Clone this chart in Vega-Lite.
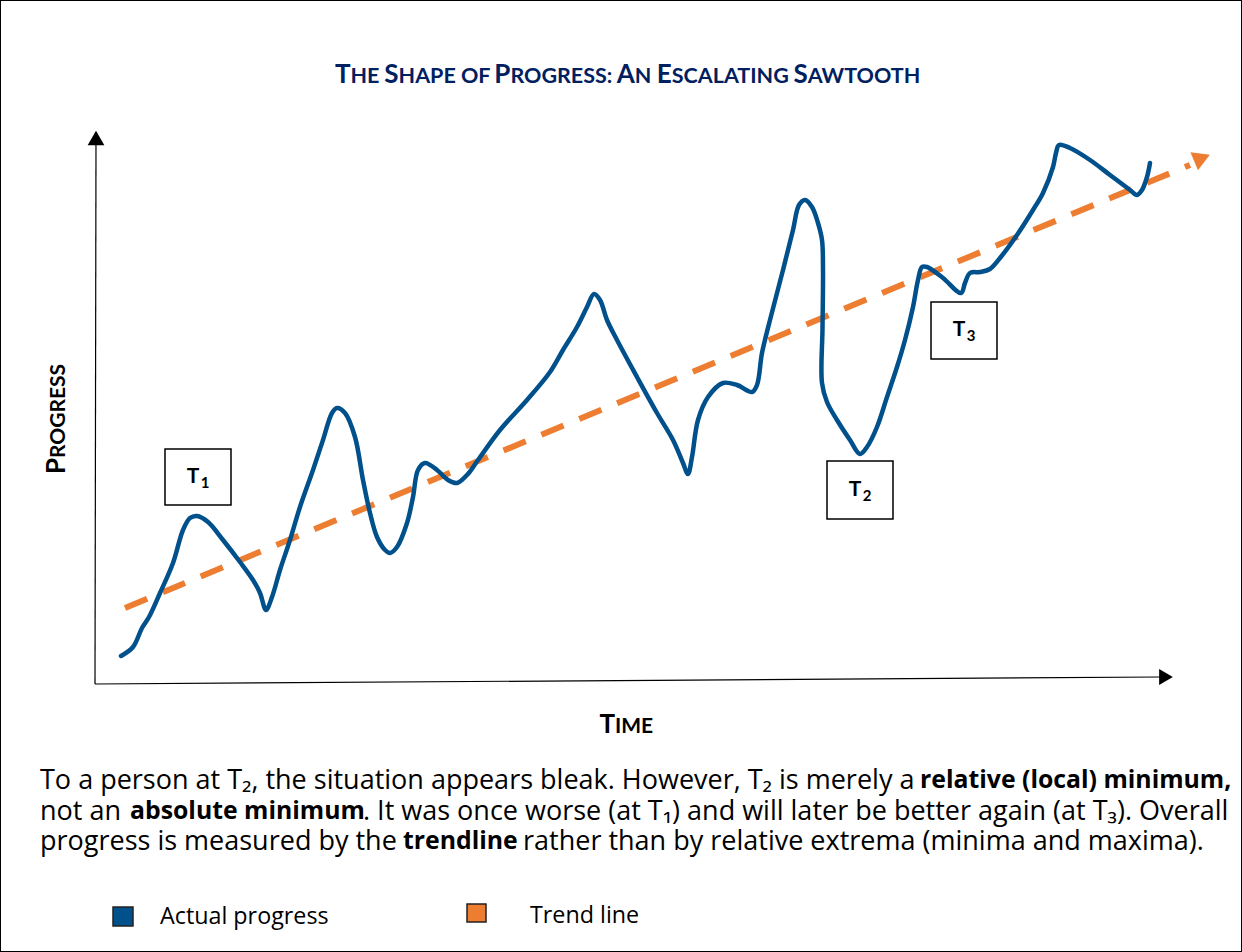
{
  "$schema": "https://vega.github.io/schema/vega-lite/v6.json",
  "width": 1242,
  "height": 952,
  "padding": 0,
  "autosize": {"type": "none"},
  "background": "white",
  "config": {"view": {"stroke": "#000000", "strokeWidth": 2}},
  "datasets": {
    "axes": [
      {"t": 0, "p": -0.1, "t2": 106.5, "p2": 0.6},
      {"t": 0, "p": -0.1, "t2": 0.1, "p2": 54.3}
    ],
    "arrows": [
      {"name": "y", "t": 0.1, "p": 54.5},
      {"name": "x", "t": 107.1, "p": 0.6},
      {"name": "trend", "t": 110.7, "p": 52.5}
    ],
    "trend": [
      {"t": 3.0, "p": 7.5},
      {"t": 109.5, "p": 51.8}
    ],
    "curve": [
      {"i": 1, "t": 2.6, "p": 2.7}, {"i": 2, "t": 3.8, "p": 3.6}, {"i": 3, "t": 4.7, "p": 5.5}, {"i": 4, "t": 5.4, "p": 6.6},
      {"i": 5, "t": 6.5, "p": 9.0}, {"i": 6, "t": 7.8, "p": 12.0}, {"i": 7, "t": 8.8, "p": 15.3}, {"i": 8, "t": 9.5, "p": 16.5},
      {"i": 9, "t": 10.2, "p": 16.7}, {"i": 10, "t": 11.3, "p": 16.1}, {"i": 11, "t": 12.8, "p": 14.3}, {"i": 12, "t": 14.5, "p": 12.1},
      {"i": 13, "t": 15.8, "p": 10.3}, {"i": 14, "t": 16.5, "p": 9.0}, {"i": 15, "t": 17.1, "p": 7.3}, {"i": 16, "t": 17.7, "p": 8.6},
      {"i": 17, "t": 18.5, "p": 11.3}, {"i": 18, "t": 19.5, "p": 14.3}, {"i": 19, "t": 20.5, "p": 17.6}, {"i": 20, "t": 21.8, "p": 21.3},
      {"i": 21, "t": 22.8, "p": 24.3}, {"i": 22, "t": 23.7, "p": 27.0}, {"i": 23, "t": 24.2, "p": 27.5}, {"i": 24, "t": 25.0, "p": 27.0},
      {"i": 25, "t": 26.0, "p": 24.6}, {"i": 26, "t": 26.8, "p": 20.3}, {"i": 27, "t": 27.5, "p": 17.0}, {"i": 28, "t": 28.2, "p": 14.6},
      {"i": 29, "t": 29.0, "p": 13.3}, {"i": 30, "t": 29.5, "p": 13.0}, {"i": 31, "t": 30.2, "p": 13.6}, {"i": 32, "t": 31.2, "p": 16.0},
      {"i": 33, "t": 31.8, "p": 18.6}, {"i": 34, "t": 32.3, "p": 21.3}, {"i": 35, "t": 33.0, "p": 22.0}, {"i": 36, "t": 34.2, "p": 21.3},
      {"i": 37, "t": 35.3, "p": 20.3}, {"i": 38, "t": 36.2, "p": 20.0}, {"i": 39, "t": 37.2, "p": 20.8}, {"i": 40, "t": 38.3, "p": 22.3},
      {"i": 41, "t": 40.5, "p": 25.3}, {"i": 42, "t": 43.2, "p": 28.3}, {"i": 43, "t": 45.5, "p": 31.1}, {"i": 44, "t": 46.8, "p": 33.3},
      {"i": 45, "t": 48.2, "p": 35.6}, {"i": 46, "t": 49.2, "p": 37.6}, {"i": 47, "t": 49.9, "p": 38.9}, {"i": 48, "t": 50.5, "p": 38.3},
      {"i": 49, "t": 51.2, "p": 36.3}, {"i": 50, "t": 52.2, "p": 34.3}, {"i": 51, "t": 54.2, "p": 30.6}, {"i": 52, "t": 56.2, "p": 27.0},
      {"i": 53, "t": 57.8, "p": 24.3}, {"i": 54, "t": 58.8, "p": 22.0}, {"i": 55, "t": 59.3, "p": 20.9}, {"i": 56, "t": 59.7, "p": 22.6},
      {"i": 57, "t": 60.3, "p": 26.3}, {"i": 58, "t": 61.3, "p": 28.6}, {"i": 59, "t": 62.8, "p": 30.0}, {"i": 60, "t": 64.2, "p": 29.8},
      {"i": 61, "t": 65.7, "p": 29.1}, {"i": 62, "t": 66.2, "p": 29.8}, {"i": 63, "t": 66.7, "p": 33.0}, {"i": 64, "t": 67.5, "p": 36.3},
      {"i": 65, "t": 68.8, "p": 41.3}, {"i": 66, "t": 69.8, "p": 45.3}, {"i": 67, "t": 70.4, "p": 47.8}, {"i": 68, "t": 71.0, "p": 48.3},
      {"i": 69, "t": 71.7, "p": 47.6}, {"i": 70, "t": 72.3, "p": 46.0}, {"i": 71, "t": 72.7, "p": 44.3}, {"i": 72, "t": 72.8, "p": 41.3},
      {"i": 73, "t": 72.75, "p": 35.5}, {"i": 74, "t": 72.7, "p": 30.0}, {"i": 75, "t": 73.2, "p": 28.1}, {"i": 76, "t": 74.2, "p": 26.3},
      {"i": 77, "t": 75.5, "p": 24.3}, {"i": 78, "t": 76.5, "p": 22.9}, {"i": 79, "t": 77.2, "p": 23.6}, {"i": 80, "t": 78.2, "p": 25.6},
      {"i": 81, "t": 79.2, "p": 28.6}, {"i": 82, "t": 80.2, "p": 31.6}, {"i": 83, "t": 81.0, "p": 34.3}, {"i": 84, "t": 81.8, "p": 37.6},
      {"i": 85, "t": 82.3, "p": 40.3}, {"i": 86, "t": 82.7, "p": 41.6}, {"i": 87, "t": 83.2, "p": 41.6}, {"i": 88, "t": 84.8, "p": 40.5},
      {"i": 89, "t": 86.6, "p": 39.0}, {"i": 90, "t": 87.0, "p": 40.0}, {"i": 91, "t": 87.5, "p": 41.0}, {"i": 92, "t": 88.5, "p": 41.1},
      {"i": 93, "t": 89.5, "p": 41.4}, {"i": 94, "t": 90.5, "p": 42.5}, {"i": 95, "t": 92.2, "p": 44.8}, {"i": 96, "t": 93.8, "p": 47.3},
      {"i": 97, "t": 94.8, "p": 49.0}, {"i": 98, "t": 95.8, "p": 51.6}, {"i": 99, "t": 96.1, "p": 53.0}, {"i": 100, "t": 96.4, "p": 53.8},
      {"i": 101, "t": 97.5, "p": 53.5}, {"i": 102, "t": 99.5, "p": 52.3}, {"i": 103, "t": 101.5, "p": 50.8}, {"i": 104, "t": 103.5, "p": 49.3},
      {"i": 105, "t": 104.2, "p": 48.8}, {"i": 106, "t": 104.7, "p": 49.3}, {"i": 107, "t": 105.2, "p": 50.6}, {"i": 108, "t": 105.5, "p": 52.0}
    ],
    "boxes": [
      {"name": "T1", "t": 7.0, "t2": 13.6, "p": 23.4, "p2": 17.8},
      {"name": "T2", "t": 73.2, "t2": 79.8, "p": 22.2, "p2": 16.4},
      {"name": "T3", "t": 83.6, "t2": 90.2, "p": 38.1, "p2": 32.4}
    ],
    "labels": [
      {"t": 10.3, "p": 20.6, "main": "T", "sub": "1"},
      {"t": 76.5, "p": 19.3, "main": "T", "sub": "2"},
      {"t": 86.9, "p": 35.3, "main": "T", "sub": "3"}
    ],
    "texts": [
      {"kind": "tb", "t": 25.55, "p": 60.0, "text": "T"},
      {"kind": "tb", "t": 30.36, "p": 60.0, "text": "S"},
      {"kind": "tb", "t": 41.54, "p": 60.0, "text": "P"},
      {"kind": "tb", "t": 53.98, "p": 60.0, "text": "A"},
      {"kind": "tb", "t": 57.68, "p": 60.0, "text": "E"},
      {"kind": "tb", "t": 71.27, "p": 60.0, "text": "S"},
      {"kind": "ts", "t": 25.55, "p": 60.0, "text": "HE"},
      {"kind": "ts", "t": 30.36, "p": 60.0, "text": "HAPE OF"},
      {"kind": "ts", "t": 41.54, "p": 60.0, "text": "ROGRESS:"},
      {"kind": "ts", "t": 53.98, "p": 60.0, "text": "N"},
      {"kind": "ts", "t": 57.68, "p": 60.0, "text": "SCALATING"},
      {"kind": "ts", "t": 71.27, "p": 60.0, "text": "AWTOOTH"},
      {"kind": "xb", "t": 52.0, "p": -5.0, "text": "T"},
      {"kind": "xs", "t": 52.0, "p": -5.0, "text": "IME"},
      {"kind": "yb", "t": -3.0, "p": 22.5, "text": "P"},
      {"kind": "ys", "t": -3.0, "p": 22.5, "text": "ROGRESS"},
      {"kind": "cn", "t": -5.5, "p": -9.8, "text": "To a person at T₂, the situation appears bleak. However, T₂ is merely a"},
      {"kind": "cb", "t": 82.5, "p": -9.8, "text": "relative (local) minimum,"},
      {"kind": "cn", "t": -5.5, "p": -12.9, "text": "not an"},
      {"kind": "cb", "t": 3.5, "p": -12.9, "text": "absolute minimum"},
      {"kind": "cn", "t": 26.8, "p": -12.9, "text": ". It was once worse (at T₁) and will later be better again (at T₃). Overall"},
      {"kind": "cn", "t": -5.5, "p": -15.9, "text": "progress is measured by the"},
      {"kind": "cb", "t": 30.8, "p": -15.9, "text": "trendline"},
      {"kind": "cn", "t": 42.8, "p": -15.9, "text": "rather than by relative extrema (minima and maxima)."},
      {"kind": "ln", "t": 6.5, "p": -23.4, "text": "Actual progress"},
      {"kind": "ln", "t": 43.5, "p": -23.3, "text": "Trend line"}
    ],
    "legend": [
      {"series": "Actual progress", "t": 1.8, "t2": 3.8, "p": -22.4, "p2": -24.3},
      {"series": "Trend line", "t": 37.2, "t2": 39.1, "p": -22.1, "p2": -23.9}
    ]
  },
  "encoding": {
    "x": {"field": "t", "type": "quantitative", "scale": {"domain": [-9.5, 114.7], "nice": false, "zero": false}, "axis": null},
    "y": {"field": "p", "type": "quantitative", "scale": {"domain": [-26.9, 68.3], "nice": false, "zero": false}, "axis": null}
  },
  "layer": [
    {
      "data": {"name": "axes"},
      "mark": {"type": "rule", "color": "#000000", "strokeWidth": 1.2},
      "encoding": {"x2": {"field": "t2"}, "y2": {"field": "p2"}}
    },
    {
      "data": {"name": "arrows"},
      "transform": [{"filter": "datum.name === 'y'"}],
      "mark": {"type": "point", "shape": "triangle-up", "size": 280, "filled": true, "color": "#000000", "opacity": 1}
    },
    {
      "data": {"name": "arrows"},
      "transform": [{"filter": "datum.name === 'x'"}],
      "mark": {"type": "point", "shape": "triangle-right", "size": 250, "filled": true, "color": "#000000", "opacity": 1}
    },
    {
      "data": {"name": "trend"},
      "mark": {"type": "line", "color": "#ED7D31", "strokeWidth": 6, "strokeDash": [24, 17], "strokeCap": "butt"}
    },
    {
      "data": {"name": "arrows"},
      "transform": [{"filter": "datum.name === 'trend'"}],
      "mark": {"type": "point", "shape": "triangle-right", "size": 380, "angle": 337.4, "filled": true, "color": "#ED7D31", "opacity": 1}
    },
    {
      "data": {"name": "curve"},
      "mark": {"type": "line", "color": "#00508C", "strokeWidth": 4.5, "interpolate": "catmull-rom", "strokeCap": "round", "strokeJoin": "round"},
      "encoding": {"order": {"field": "i", "type": "quantitative"}}
    },
    {
      "data": {"name": "boxes"},
      "mark": {"type": "rect", "fill": "#FFFFFF", "stroke": "#000000", "strokeWidth": 1.5},
      "encoding": {"x2": {"field": "t2"}, "y2": {"field": "p2"}}
    },
    {
      "data": {"name": "labels"},
      "mark": {"type": "text", "font": "Lato", "fontWeight": "bold", "fontSize": 21, "align": "center", "baseline": "middle", "dx": -5, "color": "#000000"},
      "encoding": {"text": {"field": "main"}}
    },
    {
      "data": {"name": "labels"},
      "mark": {"type": "text", "font": "Lato", "fontWeight": "bold", "fontSize": 15, "align": "center", "baseline": "middle", "dx": 7, "dy": 6, "color": "#000000"},
      "encoding": {"text": {"field": "sub"}}
    },
    {
      "data": {"name": "texts"},
      "transform": [{"filter": "datum.kind === 'tb'"}],
      "mark": {"type": "text", "font": "Lato", "fontWeight": "bold", "fontSize": 26, "align": "right", "baseline": "alphabetic", "color": "#002060"},
      "encoding": {"text": {"field": "text"}}
    },
    {
      "data": {"name": "texts"},
      "transform": [{"filter": "datum.kind === 'ts'"}],
      "mark": {"type": "text", "font": "Lato", "fontWeight": "bold", "fontSize": 21.5, "align": "left", "baseline": "alphabetic", "color": "#002060"},
      "encoding": {"text": {"field": "text"}}
    },
    {
      "data": {"name": "texts"},
      "transform": [{"filter": "datum.kind === 'xb'"}],
      "mark": {"type": "text", "font": "Lato", "fontWeight": "bold", "fontSize": 26, "align": "right", "baseline": "alphabetic", "color": "#000000"},
      "encoding": {"text": {"field": "text"}}
    },
    {
      "data": {"name": "texts"},
      "transform": [{"filter": "datum.kind === 'xs'"}],
      "mark": {"type": "text", "font": "Lato", "fontWeight": "bold", "fontSize": 21, "align": "left", "baseline": "alphabetic", "color": "#000000"},
      "encoding": {"text": {"field": "text"}}
    },
    {
      "data": {"name": "texts"},
      "transform": [{"filter": "datum.kind === 'yb'"}],
      "mark": {"type": "text", "font": "Lato", "fontWeight": "bold", "fontSize": 26, "align": "right", "baseline": "alphabetic", "angle": 270, "color": "#000000"},
      "encoding": {"text": {"field": "text"}}
    },
    {
      "data": {"name": "texts"},
      "transform": [{"filter": "datum.kind === 'ys'"}],
      "mark": {"type": "text", "font": "Lato", "fontWeight": "bold", "fontSize": 21, "align": "left", "baseline": "alphabetic", "angle": 270, "color": "#000000"},
      "encoding": {"text": {"field": "text"}}
    },
    {
      "data": {"name": "texts"},
      "transform": [{"filter": "datum.kind === 'cn'"}],
      "mark": {"type": "text", "font": "Open Sans", "fontSize": 27, "align": "left", "baseline": "middle", "color": "#000000"},
      "encoding": {"text": {"field": "text"}}
    },
    {
      "data": {"name": "texts"},
      "transform": [{"filter": "datum.kind === 'cb'"}],
      "mark": {"type": "text", "font": "Open Sans", "fontWeight": "bold", "fontSize": 24.8, "align": "left", "baseline": "middle", "color": "#000000"},
      "encoding": {"text": {"field": "text"}}
    },
    {
      "data": {"name": "texts"},
      "transform": [{"filter": "datum.kind === 'ln'"}],
      "mark": {"type": "text", "font": "Open Sans", "fontSize": 23.3, "align": "left", "baseline": "middle", "color": "#000000"},
      "encoding": {"text": {"field": "text"}}
    },
    {
      "data": {"name": "legend"},
      "mark": {"type": "rect", "stroke": "#222222", "strokeWidth": 1.5},
      "encoding": {
        "x2": {"field": "t2"},
        "y2": {"field": "p2"},
        "fill": {"field": "series", "type": "nominal", "scale": {"domain": ["Actual progress", "Trend line"], "range": ["#00508C", "#ED7D31"]}, "legend": null}
      }
    }
  ]
}
